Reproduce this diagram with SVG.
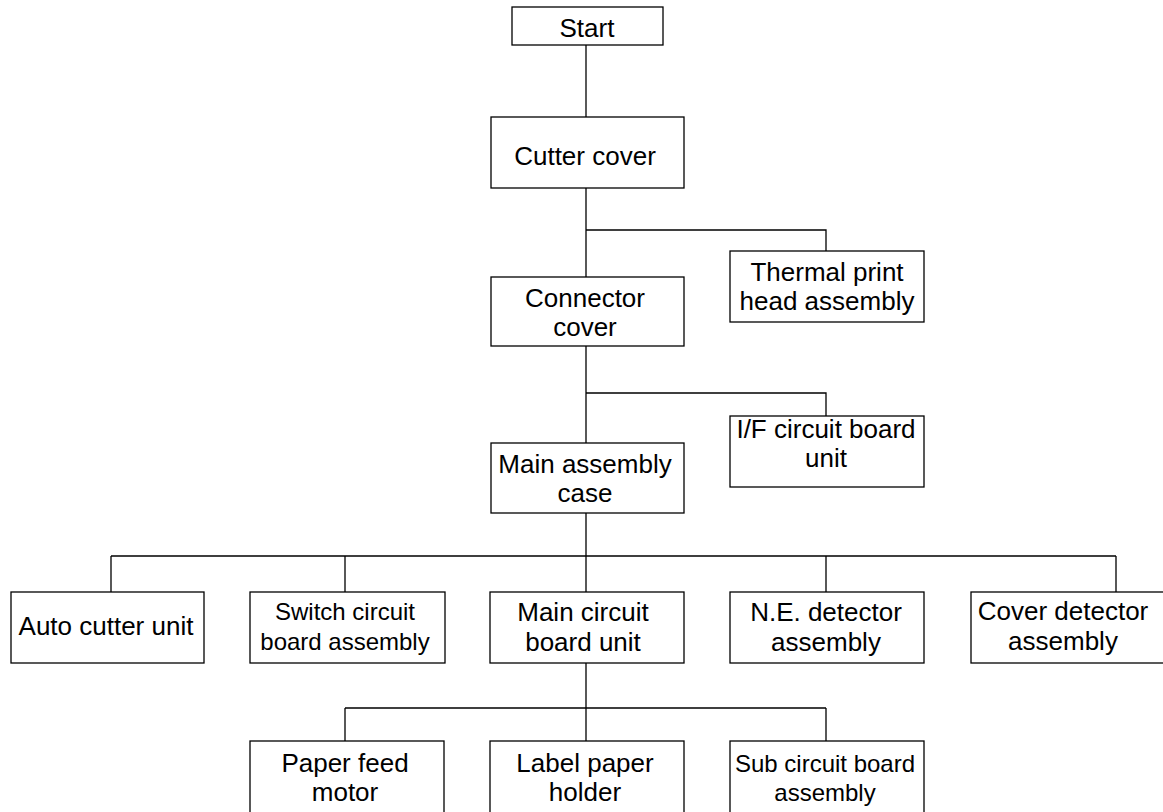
<svg xmlns="http://www.w3.org/2000/svg" width="1163" height="812" viewBox="0 0 1163 812">
<style>
.box{fill:#fff;stroke:#000;stroke-width:1.3}
.t{font-family:"Liberation Sans",Arial,sans-serif;font-size:26px;fill:#000;text-anchor:middle}
.s{font-size:24px}
.c{fill:none;stroke:#000;stroke-width:1.3}
</style>
<rect width="1163" height="812" fill="#fff"/>
<g id="connectors" class="c">
<path d="M586,45V117"/>
<path d="M586,188V277M586,230H826V251"/>
<path d="M586,346V443M586,393H826V416"/>
<path d="M586,513V592M111,556H1116M111,556V592M345,556V592M826,556V592M1116,556V592"/>
<path d="M586,663V741M345,708H826M345,708V741M826,708V741"/>
</g>
<g id="start"><rect class="box" x="512" y="7" width="151" height="38"/><text class="t" x="587" y="37">Start</text></g>
<g id="cutter-cover"><rect class="box" x="491" y="117" width="193" height="71"/><text class="t" x="585" y="165">Cutter cover</text></g>
<g id="thermal-print-head"><rect class="box" x="730" y="251" width="194" height="71"/><text class="t" x="827" y="281">Thermal print</text><text class="t" x="827" y="310">head assembly</text></g>
<g id="connector-cover"><rect class="box" x="491" y="277" width="193" height="69"/><text class="t" x="585" y="307">Connector</text><text class="t" x="585" y="336">cover</text></g>
<g id="if-circuit-board"><rect class="box" x="730" y="416" width="194" height="71"/><text class="t" x="826" y="438">I/F circuit board</text><text class="t" x="826" y="467">unit</text></g>
<g id="main-assembly-case"><rect class="box" x="491" y="443" width="193" height="70"/><text class="t" x="585" y="473">Main assembly</text><text class="t" x="585" y="502">case</text></g>
<g id="auto-cutter"><rect class="box" x="11" y="592" width="193" height="71"/><text class="t" x="106" y="635">Auto cutter unit</text></g>
<g id="switch-circuit"><rect class="box" x="250" y="592" width="195" height="71"/><text class="t s" x="345" y="620">Switch circuit</text><text class="t s" x="345" y="650">board assembly</text></g>
<g id="main-circuit"><rect class="box" x="490" y="592" width="194" height="71"/><text class="t" x="583" y="621">Main circuit</text><text class="t" x="583" y="651">board unit</text></g>
<g id="ne-detector"><rect class="box" x="730" y="592" width="194" height="71"/><text class="t" x="826" y="621">N.E. detector</text><text class="t" x="826" y="651">assembly</text></g>
<g id="cover-detector"><rect class="box" x="971" y="592" width="193" height="71"/><text class="t" x="1063" y="620">Cover detector</text><text class="t" x="1063" y="650">assembly</text></g>
<g id="paper-feed-motor"><rect class="box" x="250" y="741" width="194" height="90"/><text class="t" x="345" y="772">Paper feed</text><text class="t" x="345" y="801">motor</text></g>
<g id="label-paper-holder"><rect class="box" x="490" y="741" width="194" height="90"/><text class="t" x="585" y="772">Label paper</text><text class="t" x="585" y="801">holder</text></g>
<g id="sub-circuit-board"><rect class="box" x="730" y="741" width="194" height="90"/><text class="t s" x="825" y="772">Sub circuit board</text><text class="t s" x="825" y="801">assembly</text></g>
</svg>
